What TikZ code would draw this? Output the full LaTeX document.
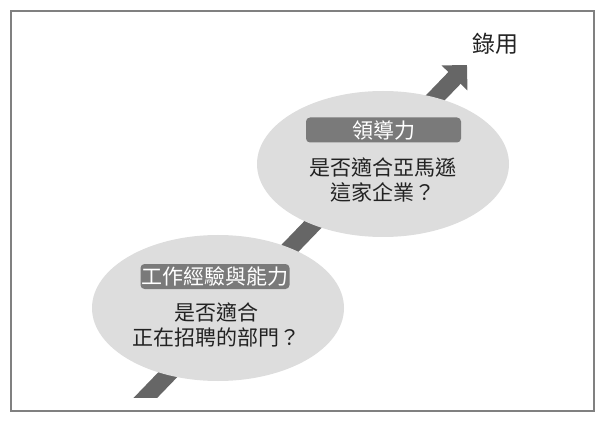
\documentclass[tikz,border=0pt]{standalone}
\usepackage{fontspec}
\setmainfont{Noto Sans CJK TC}
\usetikzlibrary{arrows.meta,shapes.geometric}

\definecolor{bubblegray}{HTML}{DDDDDD}
\definecolor{taggray}{HTML}{7A7A7A}
\definecolor{arrowgray}{HTML}{666666}
\definecolor{inkgray}{HTML}{222222}

\begin{document}
\begin{tikzpicture}[x=1pt,y=-1pt,
  bubble/.style={ellipse, fill=bubblegray, minimum width=252pt, minimum height=146pt, inner sep=0pt},
  tag/.style={fill=taggray, rounded corners=4pt, text=white, inner sep=0pt, minimum height=25pt,
    font=\fontsize{21}{21}\selectfont},
  ask/.style={text=inkgray, align=center, inner sep=0pt, font=\fontsize{21}{25}\selectfont}]
  \useasboundingbox (0,0) rectangle (605,422);
  \draw[gray, line width=1.2pt] (11,11) rectangle (594,411);

  % the rising arrow, cut off at the bottom
  \coordinate (start) at (124,420);
  \coordinate (goal) at (467,65);
  \begin{scope}
    \clip (11,11) rectangle (594,397);
    \draw[arrowgray, line width=17pt, -{Triangle[width=35pt,length=18pt]}] (start) -- (goal);
  \end{scope}

  \node[bubble] (upper) at (383,164) {};
  \node[bubble] (lower) at (218,308) {};

  \node[tag, minimum width=155pt] (lead) at (383.5,130) {領導力};
  \node[ask] (fitco) at (383,180) {是否適合亞馬遜\\這家企業？};

  \node[tag, minimum width=149pt] (skill) at (215,276.5) {工作經驗與能力};
  \node[ask] (fitdept) at (216,325) {是否適合\\正在招聘的部門？};

  \node[text=inkgray, inner sep=0pt, font=\fontsize{23}{23}\selectfont] (hire) at (495,44) {錄用};
\end{tikzpicture}
\end{document}
